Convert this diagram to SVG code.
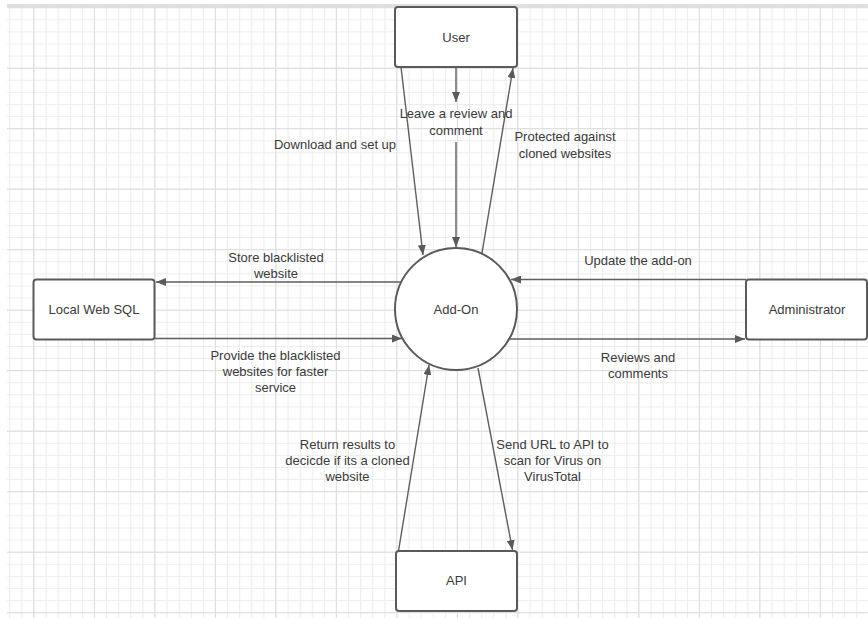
<svg xmlns="http://www.w3.org/2000/svg" width="868" height="618" viewBox="0 0 868 618">
<defs>
<pattern id="minor" patternUnits="userSpaceOnUse" x="9.3" y="7.2" width="12.1" height="12.1">
<path d="M0.5,0 V12.1 M0,0.5 H12.1" stroke="#ececec" stroke-width="1" fill="none"/>
</pattern>
<pattern id="major" patternUnits="userSpaceOnUse" x="33.3" y="7.2" width="60.5" height="60.5">
<path d="M0.5,0 V60.5 M0,0.5 H60.5" stroke="#dcdcdc" stroke-width="1" fill="none"/>
</pattern>
<marker id="arr" viewBox="0 0 10 8" refX="10" refY="4" markerWidth="10" markerHeight="8" markerUnits="userSpaceOnUse" orient="auto">
<path d="M0,0 L10,4 L0,8 z" fill="#5a5a5a"/>
</marker>
</defs>
<style>
.node{fill:#ffffff;stroke:#5a5a5a;stroke-width:2}
.lbl{font-family:"Liberation Sans",Arial,sans-serif;font-size:13px;fill:#3a3a3a;text-anchor:middle}
.con{stroke:#5e5e5e;stroke-width:1.4;fill:none}
</style>
<rect x="0" y="0" width="868" height="618" fill="#ffffff"/>
<rect x="7" y="7" width="861" height="611" fill="url(#minor)"/>
<rect x="7" y="7" width="861" height="611" fill="url(#major)"/>
<rect x="7" y="4" width="861" height="3" fill="#e0e0e0"/>

<g id="connectors">
<line class="con" x1="401" y1="67" x2="423" y2="255" marker-end="url(#arr)"/>
<line class="con" x1="456" y1="67" x2="456" y2="102" marker-end="url(#arr)"/>
<line class="con" x1="456" y1="142" x2="456" y2="247" marker-end="url(#arr)"/>
<line class="con" x1="482" y1="253" x2="513" y2="68" marker-end="url(#arr)"/>
<line class="con" x1="401" y1="282" x2="156" y2="282" marker-end="url(#arr)"/>
<line class="con" x1="155" y1="338.5" x2="402" y2="338.5" marker-end="url(#arr)"/>
<line class="con" x1="746" y1="279.5" x2="511" y2="279.5" marker-end="url(#arr)"/>
<line class="con" x1="510" y1="339" x2="745" y2="339" marker-end="url(#arr)"/>
<line class="con" x1="398.5" y1="551" x2="429" y2="365" marker-end="url(#arr)"/>
<line class="con" x1="478" y1="368" x2="512.5" y2="550" marker-end="url(#arr)"/>
<text class="lbl" x="335" y="149">Download and set up</text>
<text class="lbl" x="456" y="118">Leave a review and</text>
<text class="lbl" x="456" y="134.5">comment</text>
<text class="lbl" x="565" y="141">Protected against</text>
<text class="lbl" x="565" y="157.5">cloned websites</text>
<text class="lbl" x="276" y="262">Store blacklisted</text>
<text class="lbl" x="276" y="278">website</text>
<text class="lbl" x="275.5" y="359.5">Provide the blacklisted</text>
<text class="lbl" x="275.5" y="376">websites for faster</text>
<text class="lbl" x="275.5" y="392">service</text>
<text class="lbl" x="638" y="265">Update the add-on</text>
<text class="lbl" x="638" y="362">Reviews and</text>
<text class="lbl" x="638" y="378">comments</text>
<text class="lbl" x="347.5" y="449">Return results to</text>
<text class="lbl" x="347.5" y="465">decicde if its a cloned</text>
<text class="lbl" x="347.5" y="481">website</text>
<text class="lbl" x="552.5" y="449">Send URL to API to</text>
<text class="lbl" x="552.5" y="465">scan for Virus on</text>
<text class="lbl" x="552.5" y="481">VirusTotal</text>
</g>

<g id="user">
<rect class="node" x="395" y="7" width="122" height="60" rx="3"/>
<text class="lbl" x="456" y="41.5">User</text>
</g>
<g id="addon">
<circle class="node" cx="456" cy="309" r="61"/>
<text class="lbl" x="456" y="313.5">Add-On</text>
</g>
<g id="localwebsql">
<rect class="node" x="33.5" y="279.5" width="121" height="60" rx="3"/>
<text class="lbl" x="94" y="313.5">Local Web SQL</text>
</g>
<g id="administrator">
<rect class="node" x="746" y="279.5" width="121" height="60" rx="3"/>
<text class="lbl" x="807" y="313.5">Administrator</text>
</g>
<g id="api">
<rect class="node" x="396" y="551" width="121" height="60" rx="3"/>
<text class="lbl" x="456.5" y="585">API</text>
</g>
</svg>
